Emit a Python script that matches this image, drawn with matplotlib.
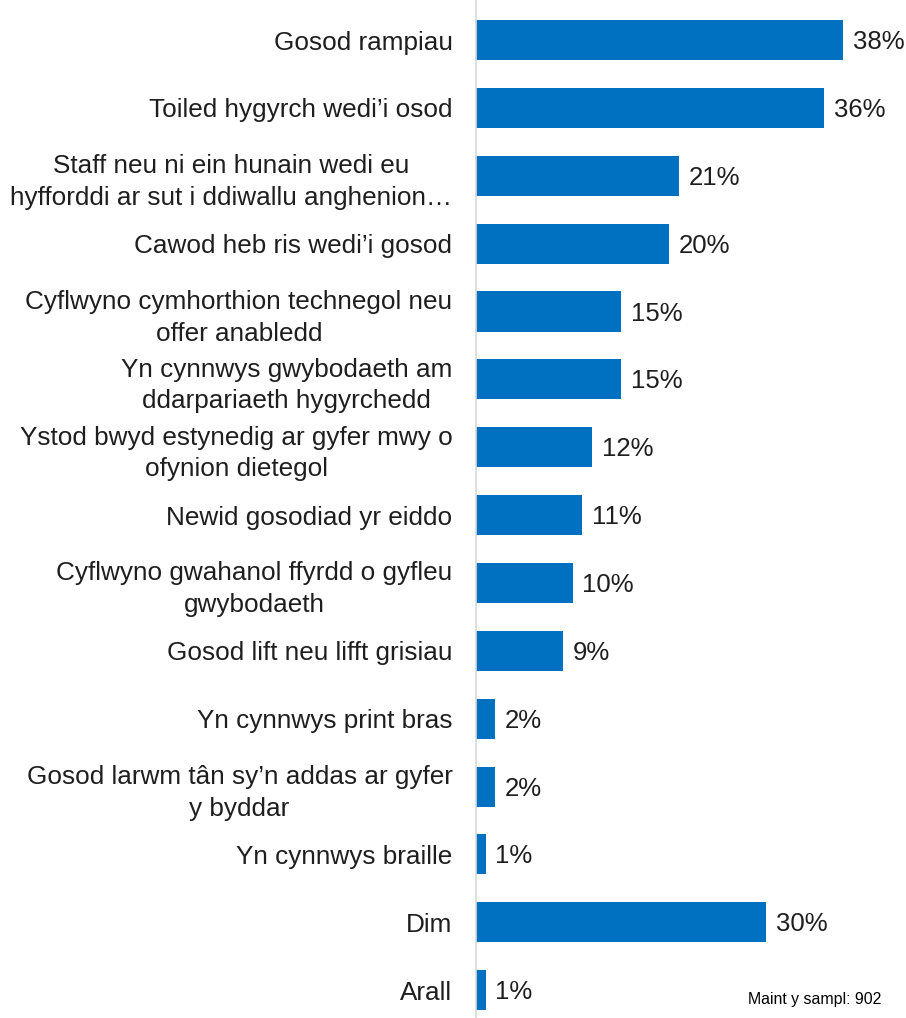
import matplotlib.pyplot as plt

plt.rcParams['font.family'] = ['Liberation Sans', 'DejaVu Sans']

# categories (top to bottom) and percentages
labels = [
    "Gosod rampiau",
    "Toiled hygyrch wedi’i osod",
    "Staff neu ni ein hunain wedi eu\nhyfforddi ar sut i ddiwallu anghenion…",
    "Cawod heb ris wedi’i gosod",
    "Cyflwyno cymhorthion technegol neu\noffer anabledd",
    "Yn cynnwys gwybodaeth am\nddarpariaeth hygyrchedd",
    "Ystod bwyd estynedig ar gyfer mwy o\nofynion dietegol",
    "Newid gosodiad yr eiddo",
    "Cyflwyno gwahanol ffyrdd o gyfleu\ngwybodaeth",
    "Gosod lift neu lifft grisiau",
    "Yn cynnwys print bras",
    "Gosod larwm tân sy’n addas ar gyfer\ny byddar",
    "Yn cynnwys braille",
    "Dim",
    "Arall",
]
values = [38, 36, 21, 20, 15, 15, 12, 11, 10, 9, 2, 2, 1, 30, 1]
sample_note = "Maint y sampl: 902"

bar_color = '#0070C0'
text_color = '#1e1e1e'

fig = plt.figure(figsize=(9.06, 10.18), dpi=100)
ax = fig.add_axes([0.5254, 0.0, 0.4746, 1.0])

pos = list(range(len(values)))
ax.barh(pos, values, height=0.59, color=bar_color)

for p, v in zip(pos, values):
    ax.text(v + 1.0, p + 0.03, f"{v}%", va='center', ha='left', fontsize=18.5, color=text_color)

ax.set_yticks(pos)
ax.set_yticklabels(labels, fontsize=18.8, color=text_color, multialignment='center',
                   linespacing=1.4)
ax.tick_params(axis='y', length=0, pad=17)
ax.set_xticks([])
ax.set_xlim(0, 44.5)
ax.set_ylim(14.41, -0.59)

for s in ['top', 'right', 'bottom']:
    ax.spines[s].set_visible(False)
ax.spines['left'].set_color('#d9d9d9')
ax.spines['left'].set_linewidth(1.2)

fig.text(0.973, 0.018, sample_note, ha='right', va='center', fontsize=11.4, color='#000000')

fig.savefig('out.png', dpi=100)
